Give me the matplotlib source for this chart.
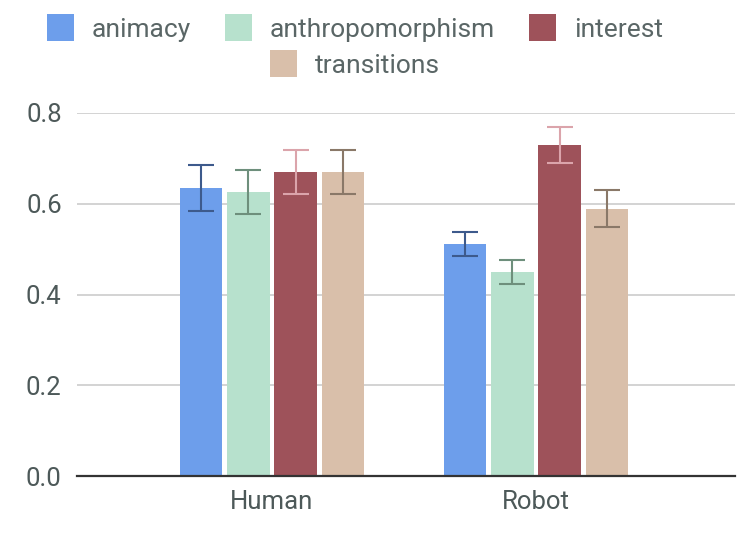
import numpy as np
import matplotlib.pyplot as plt
from matplotlib.patches import Patch

plt.rcParams['font.family'] = ['Roboto', 'DejaVu Sans']

groups = ['Human', 'Robot']
series = ['animacy', 'anthropomorphism', 'interest', 'transitions']
means = {
    'animacy': [0.635, 0.511],
    'anthropomorphism': [0.626, 0.450],
    'interest': [0.670, 0.729],
    'transitions': [0.670, 0.589],
}
errors = {
    'animacy': [0.050, 0.026],
    'anthropomorphism': [0.049, 0.027],
    'interest': [0.048, 0.040],
    'transitions': [0.048, 0.041],
}
colors = ['#6d9eeb', '#b7e1cd', '#9e525a', '#d9bfaa']
err_colors = ['#3d5a8c', '#6e8f7c', '#dba4ab', '#8a7868']
text_col = '#4d5959'

fig = plt.figure(figsize=(7.53, 5.38), dpi=100)
ax = fig.add_axes([77 / 753, 62 / 538, 658 / 753, 363 / 538])

x = np.arange(len(groups))
width = 0.161
pitch = 0.179
for i, s in enumerate(series):
    pos = x + (i - 1.5) * pitch
    ax.bar(pos, means[s], width, color=colors[i], zorder=3)
    ax.errorbar(pos, means[s], yerr=errors[s], fmt='none', ecolor=err_colors[i],
                elinewidth=1.5, capsize=9.7, capthick=1.5, zorder=4)

ax.set_xlim(-0.739, 1.754)
ax.set_ylim(0, 0.8)
ax.set_yticks([0.0, 0.2, 0.4, 0.6, 0.8])
ax.set_yticklabels(['0.0', '0.2', '0.4', '0.6', '0.8'])
ax.set_xticks(x)
ax.set_xticklabels(groups)
ax.tick_params(axis='both', length=0, labelsize=18.5, labelcolor=text_col)
ax.tick_params(axis='y', pad=11)
ax.tick_params(axis='x', pad=10)
ax.grid(axis='y', color='#cccccc', linewidth=1.2, zorder=0)
for sp in ['top', 'right', 'left']:
    ax.spines[sp].set_visible(False)
ax.spines['bottom'].set_color('#333333')
ax.spines['bottom'].set_linewidth(1.6)
ax.spines['bottom'].set_zorder(5)

handles = [Patch(facecolor=c, edgecolor='none') for c in colors]
leg_kw = dict(frameon=False, fontsize=19, handlelength=1.02, handleheight=1.19,
              handletextpad=0.68, columnspacing=1.3, labelcolor='#5a6666')
fig.legend(handles[:3], series[:3], loc='center', ncol=3,
           bbox_to_anchor=(355 / 753, 1 - 28 / 538), **leg_kw)
fig.legend(handles[3:], series[3:], loc='center', ncol=1,
           bbox_to_anchor=(355 / 753, 1 - 64 / 538), **leg_kw)

fig.savefig('out.png', dpi=100)
